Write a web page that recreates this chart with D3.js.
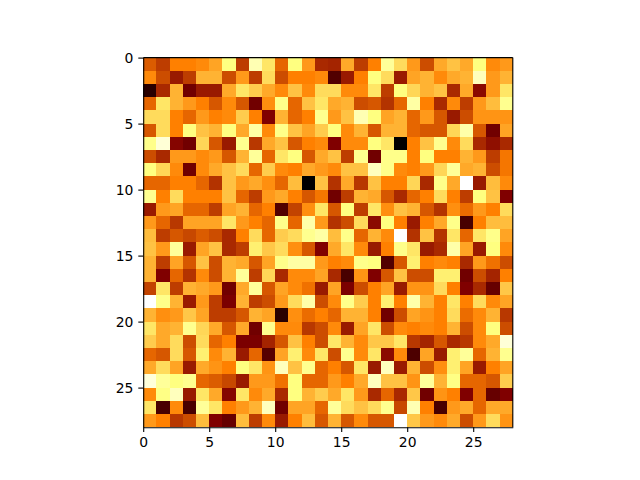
<!DOCTYPE html>
<html><head><meta charset="utf-8">
<script src="https://cdn.jsdelivr.net/npm/d3@7/dist/d3.min.js"></script>
<style>html,body{margin:0;padding:0;background:#fff}svg{display:block}text{font-family:"DejaVu Sans",sans-serif}</style>
</head><body><svg id="c" width="640" height="480"></svg>
<script>
const row00=[.43,.37,.5,.5,.52,.57,.75,.37,.85,.7,.45,.75,.55,.33,.32,.58,.37,.5,.8,.68,.55,.4,.58,.63,.58,.75,.52,.55];
const row01=[.52,.4,.3,.37,.6,.6,.4,.55,.37,.68,.4,.5,.5,.52,.16,.3,.5,.75,.68,.3,.57,.6,.52,.58,.6,.87,.55,.6];
const row02=[.08,.33,.6,.22,.3,.3,.58,.7,.65,.58,.52,.63,.52,.68,.68,.52,.52,.7,.37,.75,.67,.6,.63,.33,.58,.27,.55,.7];
const row03=[.45,.7,.6,.55,.5,.42,.52,.42,.22,.53,.77,.45,.63,.7,.58,.6,.4,.42,.35,.45,.82,.5,.33,.52,.37,.55,.62,.78];
const row04=[.68,.68,.5,.45,.55,.5,.52,.65,.5,.25,.6,.45,.5,.78,.55,.63,.85,.75,.57,.6,.45,.55,.42,.3,.4,.54,.54,.54];
const row05=[.42,.68,.5,.75,.63,.6,.75,.58,.82,.52,.77,.63,.57,.65,.75,.52,.6,.42,.6,.6,.45,.42,.42,.67,.83,.42,.22,.57];
const row06=[.77,.92,.26,.22,.67,.42,.3,.78,.36,.58,.63,.42,.5,.52,.25,.52,.52,.75,.7,0,.5,.63,.78,.52,.68,.33,.28,.33];
const row07=[.4,.33,.55,.55,.52,.55,.42,.6,.8,.45,.7,.75,.42,.58,.63,.37,.78,.22,.77,.77,.5,.75,.5,.5,.6,.55,.37,.48];
const row08=[.75,.67,.52,.22,.52,.58,.63,.68,.45,.65,.52,.5,.58,.55,.52,.63,.63,.87,.77,.52,.5,.55,.67,.8,.58,.6,.4,.48];
const row09=[.45,.45,.5,.5,.45,.35,.63,.55,.58,.53,.45,.62,0,.63,.35,.58,.36,.63,.5,.5,.67,.33,.77,.58,1,.3,.62,.52];
const row10=[.78,.5,.68,.5,.5,.5,.63,.45,.37,.55,.58,.5,.42,.48,.22,.37,.6,.58,.42,.33,.45,.5,.68,.5,.37,.75,.63,.25];
const row11=[.3,.55,.57,.45,.45,.37,.57,.6,.45,.5,.16,.38,.53,.7,.42,.75,.37,.7,.53,.63,.6,.42,.35,.53,.46,.55,.5,.68];
const row12=[.55,.45,.36,.57,.57,.57,.7,.55,.5,.45,.77,.45,.83,.55,.35,.4,.68,.27,.75,.5,.3,.5,.58,.77,.14,.5,.62,.62];
const row13=[.62,.37,.42,.39,.43,.4,.33,.5,.68,.45,.65,.68,.78,.82,.62,.77,.45,.6,.52,1,.35,.63,.35,.7,.45,.7,.77,.57];
const row14=[.63,.55,.8,.3,.57,.63,.33,.37,.72,.64,.68,.53,.42,.25,.58,.7,.52,.3,.5,.77,.7,.3,.33,.83,.57,.3,.75,.52];
const row15=[.6,.37,.57,.42,.63,.4,.6,.58,.42,.57,.77,.82,.82,.55,.5,.52,.77,.75,.16,.42,.72,.5,.52,.5,.33,.55,.47,.4];
const row16=[.6,.25,.45,.35,.52,.4,.6,.8,.37,.67,.33,.52,.52,.57,.33,.14,.54,.25,.42,.63,.4,.4,.72,.72,.22,.4,.32,.5];
const row17=[.38,.7,.37,.6,.58,.55,.22,.58,.8,.42,.57,.52,.47,.3,.57,.24,.4,.5,.57,.3,.54,.54,.68,.5,.25,.33,.2,.64];
const row18=[1,.77,.6,.3,.55,.37,.24,.6,.37,.4,.55,.68,.83,.4,.52,.77,.65,.5,.72,.5,.83,.6,.5,.7,.5,.68,.52,.57];
const row19=[.6,.53,.55,.64,.57,.37,.37,.42,.6,.57,.08,.53,.46,.5,.45,.6,.6,.5,.22,.4,.57,.54,.5,.68,.46,.52,.6,.36];
const row20=[.7,.58,.6,.78,.67,.58,.42,.58,.22,.78,.52,.52,.36,.4,.52,.3,.57,.7,.4,.52,.5,.52,.5,.6,.4,.52,.75,.4];
const row21=[.65,.58,.68,.4,.68,.45,.5,.24,.24,.32,.42,.63,.5,.4,.7,.6,.52,.64,.64,.7,.36,.32,.42,.33,.36,.52,.58,.92];
const row22=[.45,.42,.68,.42,.72,.52,.6,.3,.45,.17,.57,.72,.52,.7,.4,.78,.52,.7,.27,.52,.15,.57,.3,.72,.8,.45,.6,.78];
const row23=[.58,.68,.57,.3,.58,.54,.5,.75,.7,.54,.87,.63,.78,.45,.5,.42,.7,.3,.87,.3,.6,.4,.53,.72,.57,.3,.5,.57];
const row24=[.93,.8,.75,.78,.45,.43,.39,.3,.55,.55,.47,.75,.45,.45,.55,.5,.58,.87,.63,.63,.54,.8,.6,.76,.45,.45,.42,.65];
const row25=[.52,.76,.87,.3,.7,.58,.26,.7,.52,.58,.33,.75,.6,.65,.58,.7,.55,.33,.45,.33,.64,.22,.54,.5,.25,.45,.2,.25];
const row26=[.7,.14,.52,.14,.8,.7,.5,.55,.6,.87,.22,.57,.57,.45,.8,.68,.63,.68,.78,.39,.85,.5,.14,.55,.58,.45,.58,.58];
const row27=[.55,.5,.36,.4,.62,.25,.2,.62,.37,.52,.3,.5,.62,.42,.6,.42,.52,.42,.42,1,.64,.55,.52,.58,.4,.55,.68,.54];
const rows=[row00,row01,row02,row03,row04,row05,row06,row07,row08,row09,row10,row11,row12,row13,row14,row15,row16,row17,row18,row19,row20,row21,row22,row23,row24,row25,row26,row27];
const tickValues=[0,5,10,15,20,25];

const svg=d3.select("#c");
const x=d3.scaleLinear().domain([0,28]).range([143.2,512.8]);
const y=d3.scaleLinear().domain([0,28]).range([57.6,427.2]);
const color=d3.scaleLinear().domain([0,.25,.5,.75,1]).range(["#000000","#800000","#ff8000","#ffff80","#ffffff"]).clamp(true);

svg.append("g").attr("shape-rendering","crispEdges").selectAll("g").data(rows).join("g")
  .each(function(r,i){
    d3.select(this).selectAll("rect").data(r).join("rect")
      .attr("x",(d,j)=>x(j)).attr("y",y(i))
      .attr("width",(d,j)=>x(j+1)-x(j)).attr("height",y(i+1)-y(i))
      .attr("fill",d=>color(d));
  });

function style(g){
  g.selectAll("text").attr("font-size",13.9).attr("fill","#000").attr("font-family","DejaVu Sans");
  g.selectAll("line").attr("stroke","#000").attr("stroke-width",1.1);
  g.select(".domain").attr("stroke","#000").attr("stroke-width",1.1);
}
const ax=d3.axisBottom(x).tickValues(tickValues).tickFormat(d3.format("d")).tickSizeInner(4.9).tickSizeOuter(0).tickPadding(4.9);
const ay=d3.axisLeft(y).tickValues(tickValues).tickFormat(d3.format("d")).tickSizeInner(4.9).tickSizeOuter(0).tickPadding(4.9);
svg.append("g").attr("transform","translate(0,427.2)").call(ax).call(style);
svg.append("g").attr("transform","translate(143.2,0)").call(ay).call(style);
svg.append("line").attr("x1",143.2).attr("x2",512.8).attr("y1",57.6).attr("y2",57.6).attr("stroke","#000").attr("stroke-width",1.1);
svg.append("line").attr("x1",512.8).attr("x2",512.8).attr("y1",57.6).attr("y2",427.2).attr("stroke","#000").attr("stroke-width",1.1);
</script></body></html>
